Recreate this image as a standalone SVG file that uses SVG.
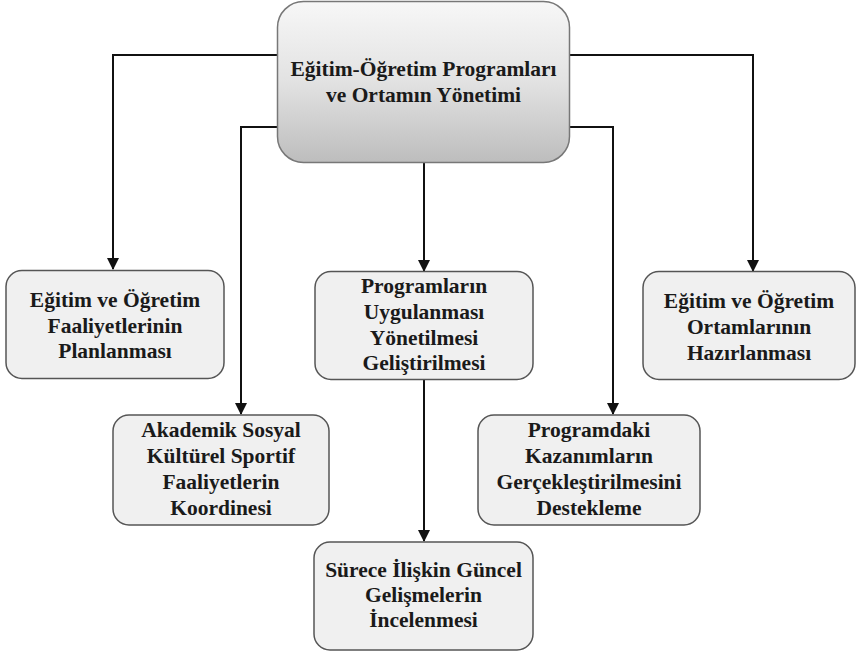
<svg xmlns="http://www.w3.org/2000/svg" width="858" height="655" viewBox="0 0 858 655">
  <defs>
    <linearGradient id="rootFill" x1="0" y1="0" x2="0" y2="1">
      <stop offset="0" stop-color="#f7f7f7"/>
      <stop offset="0.5" stop-color="#e2e2e2"/>
      <stop offset="1" stop-color="#bdbdbd"/>
    </linearGradient>
    <marker id="arrow" viewBox="0 0 12 12" refX="11" refY="6" markerWidth="12" markerHeight="12" markerUnits="userSpaceOnUse" orient="auto">
      <path d="M0,0 L12,6 L0,12 Z" fill="#111"/>
    </marker>
    <style>
      .box { fill: #f0f0f0; stroke: #555; stroke-width: 1.5; }
      .root { fill: url(#rootFill); stroke: #777; stroke-width: 1.5; }
      .label { font-weight: bold; font-size: 21.5px; fill: #1a1a1a; text-anchor: middle; }
      .link { fill: none; stroke: #111; stroke-width: 2; marker-end: url(#arrow); }
    </style>
  </defs>

  <g id="connectors">
    <path class="link" d="M278,55 H113 V269"/>
    <path class="link" d="M278,127 H241 V414"/>
    <path class="link" d="M424,163 V271"/>
    <path class="link" d="M569,55 H753 V271"/>
    <path class="link" d="M569,127 H613 V414"/>
    <path class="link" d="M424,379 V541"/>
  </g>

  <g id="root">
    <rect class="root" x="277.5" y="1.5" width="292" height="161" rx="26"/>
    <text class="label" font-family="Liberation Serif, DejaVu Serif, serif"><tspan x="423.5" y="76">Eğitim-Öğretim Programları</tspan><tspan x="423.5" y="102">ve Ortamın Yönetimi</tspan></text>
  </g>

  <g id="planning">
    <rect class="box" x="6" y="270.5" width="218" height="108" rx="16"/>
    <text class="label" font-family="Liberation Serif, DejaVu Serif, serif"><tspan x="115" y="307">Eğitim ve Öğretim</tspan><tspan x="115" y="332.5">Faaliyetlerinin</tspan><tspan x="115" y="358">Planlanması</tspan></text>
  </g>

  <g id="programs">
    <rect class="box" x="315" y="271.5" width="218" height="108" rx="16"/>
    <text class="label" font-family="Liberation Serif, DejaVu Serif, serif"><tspan x="424" y="293">Programların</tspan><tspan x="424" y="319">Uygulanması</tspan><tspan x="424" y="344.5">Yönetilmesi</tspan><tspan x="424" y="370">Geliştirilmesi</tspan></text>
  </g>

  <g id="environments">
    <rect class="box" x="643" y="271.5" width="212" height="108" rx="16"/>
    <text class="label" font-family="Liberation Serif, DejaVu Serif, serif"><tspan x="749" y="308">Eğitim ve Öğretim</tspan><tspan x="749" y="334">Ortamlarının</tspan><tspan x="749" y="360">Hazırlanması</tspan></text>
  </g>

  <g id="activities">
    <rect class="box" x="113" y="415" width="216" height="110" rx="16"/>
    <text class="label" font-family="Liberation Serif, DejaVu Serif, serif"><tspan x="221" y="437">Akademik Sosyal</tspan><tspan x="221" y="463">Kültürel Sportif</tspan><tspan x="221" y="489">Faaliyetlerin</tspan><tspan x="221" y="515">Koordinesi</tspan></text>
  </g>

  <g id="outcomes">
    <rect class="box" x="478" y="415" width="222" height="110" rx="16"/>
    <text class="label" font-family="Liberation Serif, DejaVu Serif, serif"><tspan x="589" y="437">Programdaki</tspan><tspan x="589" y="463">Kazanımların</tspan><tspan x="589" y="489">Gerçekleştirilmesini</tspan><tspan x="589" y="515">Destekleme</tspan></text>
  </g>

  <g id="developments">
    <rect class="box" x="314" y="542" width="219" height="108" rx="16"/>
    <text class="label" font-family="Liberation Serif, DejaVu Serif, serif"><tspan x="423.5" y="577">Sürece İlişkin Güncel</tspan><tspan x="423.5" y="602">Gelişmelerin</tspan><tspan x="423.5" y="627">İncelenmesi</tspan></text>
  </g>
</svg>
